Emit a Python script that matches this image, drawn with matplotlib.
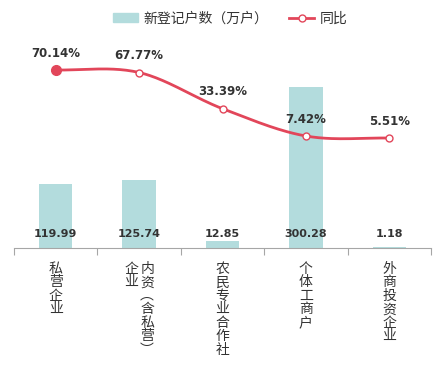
import numpy as np
import matplotlib
matplotlib.use('Agg')
from matplotlib import pyplot as plt
from matplotlib.lines import Line2D
from matplotlib.patches import Patch

plt.rcParams['font.family'] = ['Noto Sans CJK SC', 'DejaVu Sans']

categories = ['私营企业', '内资︵含私营︶企业', '农民专业合作社', '个体工商户', '外商投资企业']
# columns of the vertical labels, right to left
label_columns = [['私营企业'], ['内资︵含私营︶', '企业'], ['农民专业合作社'], ['个体工商户'], ['外商投资企业']]
new_reg = [119.99, 125.74, 12.85, 300.28, 1.18]
yoy = [70.14, 67.77, 33.39, 7.42, 5.51]

bar_color = '#b3dcdd'
line_color = '#e2465a'
text_color = '#333333'


def smooth(xs, ys, n=40):
    # Catmull-Rom like smoothing between the points, as the office chart does
    xs = np.asarray(xs, float)
    ys = np.asarray(ys, float)
    px = np.concatenate([[2 * xs[0] - xs[1]], xs, [2 * xs[-1] - xs[-2]]])
    py = np.concatenate([[ys[0]], ys, [ys[-1]]])
    out_x, out_y = [], []
    for i in range(1, len(px) - 2):
        t = np.linspace(0, 1, n)
        for arr, res in ((px, out_x), (py, out_y)):
            p0, p1, p2, p3 = arr[i - 1], arr[i], arr[i + 1], arr[i + 2]
            res.extend(0.5 * ((2 * p1) + (-p0 + p2) * t
                              + (2 * p0 - 5 * p1 + 4 * p2 - p3) * t ** 2
                              + (-p0 + 3 * p1 - 3 * p2 + p3) * t ** 3))
    return np.array(out_x), np.array(out_y)


fig = plt.figure(figsize=(4.47, 3.69), dpi=100)
ax = fig.add_axes([0.0313, 0.328, 0.933, 0.5366])
x = np.arange(len(categories))

ax.bar(x, new_reg, width=0.4, color=bar_color, zorder=1)
ax.set_xlim(-0.5, len(categories) - 0.5)
ax.set_ylim(0, 369)
for xi, v in zip(x, new_reg):
    ax.annotate('%.2f' % v, (xi, 0), xytext=(0, 14), textcoords='offset pixels',
                ha='center', va='center', fontsize=8, fontweight='bold',
                color=text_color, family=['DejaVu Sans'])

ax2 = ax.twinx()
ax2.set_ylim(-99, 89.2)
sx, sy = smooth(x, yoy)
ax2.plot(sx, sy, color=line_color, lw=2, zorder=3)
ax2.plot(x[1:], yoy[1:], 'o', ms=5, mfc='white', mec=line_color, mew=1, zorder=4)
ax2.plot(x[:1], yoy[:1], 'o', ms=7, color=line_color, zorder=4)
for xi, v in zip(x, yoy):
    ax2.annotate('%.2f%%' % v, (xi, v), xytext=(0, 17), textcoords='offset pixels',
                 ha='center', va='center', fontsize=8.5, fontweight='bold',
                 color=text_color, family=['DejaVu Sans'])

for a in (ax, ax2):
    for s in ('top', 'right', 'left'):
        a.spines[s].set_visible(False)
    a.set_yticks([])
ax2.spines['bottom'].set_visible(False)
ax.spines['bottom'].set_color('#a6a6a6')
ax.set_xticks(np.arange(len(categories) + 1) - 0.5)
ax.set_xticklabels([])
ax.tick_params(axis='x', length=5, color='#a6a6a6', direction='out')

# vertical stacked category labels
for xi, cols in zip(x, label_columns):
    ncol = len(cols)
    for j, col in enumerate(cols):
        dx = (ncol - 1) * 0.5 * 16 - j * 16
        ax.annotate('\n'.join(col), (xi, 0), xytext=(dx, -14), textcoords='offset pixels',
                    ha='center', va='top', fontsize=10, linespacing=0.95,
                    color=text_color)

handles = [Patch(color=bar_color),
           Line2D([0], [0], color=line_color, lw=2, marker='o', ms=5, mfc='white', mec=line_color)]
fig.legend(handles, ['新登记户数（万户）', '同比'], loc='center', bbox_to_anchor=(0.515, 0.95),
           ncol=2, frameon=False, fontsize=10, handlelength=1.8, columnspacing=1.5,
           handletextpad=0.4, labelcolor=text_color)

fig.savefig('out.png', dpi=100)
